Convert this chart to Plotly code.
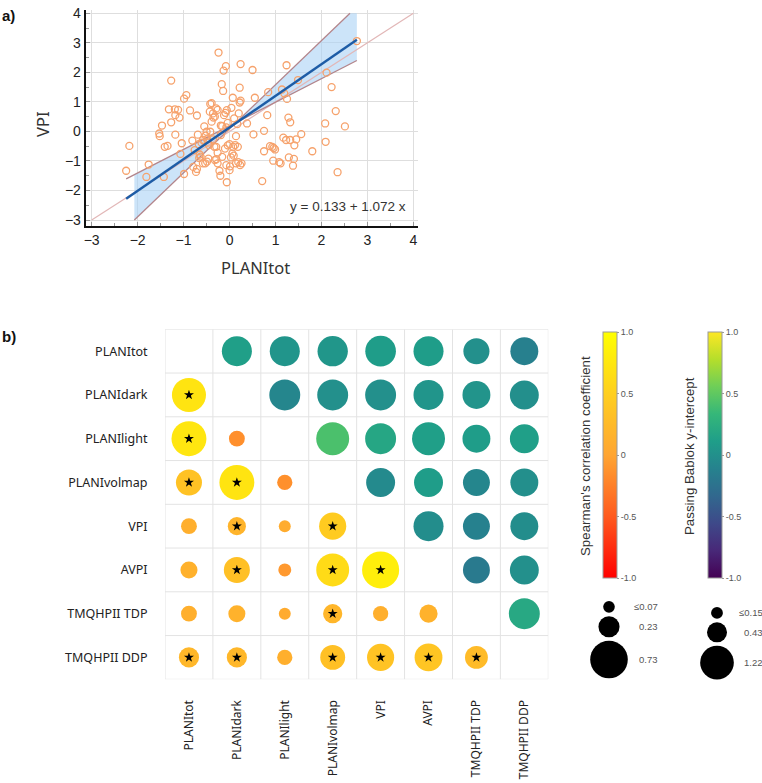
import numpy as np
import plotly.graph_objects as go

W, H = 762, 783

# ---------------- Panel a data (PLANItot vs VPI) ----------------
planitot = [-2.25, -2.18, -1.76, -1.81, -1.43, -1.27, -1.32, -1.27, -1.47, -1.53, -1.52, -1.41, -1.35,
            -1.19, -1.12, -1.18, -1.09, -1.18, -1.04, -1.07, -0.99, -0.94, -0.99, -0.86, -0.71, -0.81,
            -0.69, -0.76, -0.79, -0.71, -0.73, -0.67, -0.61, -0.65, -0.63, -0.58, -0.55, -0.52, -0.49,
            -0.47, -0.45, -0.42, -0.39, -0.43, -0.36, -0.35, -0.29, -0.26, -0.24, -0.32, -0.39, -0.42,
            -0.36, -0.33, -0.46, -0.53, -0.49, -0.32, -0.29, -0.22, -0.20, -0.16, -0.13, -0.08, -0.17,
            -0.14, -0.19, -0.16, -0.12, -0.09, -0.06, -0.04, -0.07, -0.04, -0.10, 0.00, 0.03, 0.06, 0.09,
            0.08, 0.01, -0.07, 0.00, -0.06, 0.07, 0.04, 0.14, 0.12, 0.18, 0.22, 0.24, 0.22, 0.24, 0.20,
            0.23, 0.19, 0.14, 0.26, 0.38, 0.50, 0.55, 0.52, 0.71, 0.75, 0.75, 0.82, 0.84, 0.88, 0.93,
            0.96, 0.99, 0.95, 1.08, 1.11, 1.14, 1.24, 1.25, 1.19, 1.17, 1.23, 1.28, 1.32, 1.32, 1.29,
            1.40, 1.38, 1.41, 1.45, 1.49, 1.56, 1.80, 2.08, 2.09, 2.11, 2.22, 2.31, 2.35, 2.51, 2.77,
            -0.66, -0.26, -0.26, -0.29, -0.58, 0.17, 0.10, -0.19, -0.50]
vpi = [-1.33, -0.49, -1.12, -1.54, -1.54, 1.72, 0.75, 0.31, 0.20, -0.07, -0.16, -0.52, -0.49,
       0.75, 0.73, 0.55, 0.47, -0.11, -0.40, -0.76, 1.11, 1.23, -1.44, 0.71, 0.54, -0.31,
       -0.11, -0.63, -1.20, -1.27, -1.37, -0.43, -0.38, -0.78, -0.85, -1.08, 0.17, -0.14, -0.27,
       -0.38, -0.46, 0.93, 0.96, 0.67, 0.61, 0.47, 0.78, 0.73, 2.67, 0.50, 0.33, -0.01,
       -0.27, -0.52, -0.92, -1.08, -1.02, -0.97, -0.94, -1.33, -1.50, -0.86, 2.06, 2.21, 1.60,
       1.37, 0.20, 0.18, 0.55, 0.63, 0.72, 0.29, 0.14, -0.47, -0.58, -0.43, -0.88, -0.75, -0.82,
       -0.52, -1.18, -1.14, -1.31, -1.72, 1.14, 0.80, -0.16, -0.46, -0.52, 1.48, 2.28, 0.98, 1.04, 0.61,
       -1.14, -1.04, -1.08, -1.08, 0.27, 2.08, 1.14, -0.10, -1.68, 0.02, -0.67, 0.55, 1.33, -0.50, -0.52,
       -0.56, -0.61, -0.99, -1.04, -1.08, 1.42, 2.24, 1.10, 1.29, -0.21, -0.29, 0.47, 0.31, -0.29, -0.88,
       -0.93, -1.16, -0.47, -0.27, 1.74, -0.09, -0.67, 0.27, -0.35, 1.99, 1.50, 0.69, -1.38, 0.17, 3.06,
       -0.90, -0.72, -1.08, -0.52, -0.29, 0.25, 0.44, -0.12, -0.01]

reg_intercept, reg_slope = 0.133, 1.072
ci_hi_intercept, ci_hi_slope = 0.091, 1.492
ci_lo_intercept, ci_lo_slope = 0.191, 0.798
clip_lo, clip_hi = -3.0, 4.0

# ---------------- Panel b data ----------------
labels = ["PLANItot", "PLANIdark", "PLANIlight", "PLANIvolmap", "VPI", "AVPI",
          "TMQHPII TDP", "TMQHPII DDP"]
# Spearman rho (lower triangle, row by row)
spearman_rho = [
    [0.72],
    [0.74, -0.15],
    [0.35, 0.72, -0.14],
    [0.12, 0.18, 0.08, 0.45],
    [0.14, 0.32, -0.08, 0.62, 0.82],
    [0.12, 0.16, 0.07, 0.20, 0.12, 0.15],
    [0.22, 0.22, 0.12, 0.32, 0.36, 0.38, 0.26],
]
spearman_size = [
    [0.60],
    [0.63, 0.13],
    [0.35, 0.63, 0.12],
    [0.13, 0.17, 0.074, 0.38],
    [0.15, 0.35, 0.087, 0.56, 0.71],
    [0.13, 0.15, 0.074, 0.19, 0.12, 0.17],
    [0.21, 0.21, 0.12, 0.32, 0.38, 0.40, 0.27],
]
spearman_sig = [
    [1],
    [1, 0],
    [1, 1, 0],
    [0, 1, 0, 1],
    [0, 1, 0, 1, 1],
    [0, 0, 0, 1, 0, 0],
    [1, 1, 0, 1, 1, 1, 1],
]
# Passing Bablok y-intercept (upper triangle, row by row)
pb_intercept = [
    [0.12, 0.04, 0.05, 0.10, 0.10, 0.00, -0.13],
    [-0.08, 0.00, 0.00, 0.04, 0.03, -0.01],
    [0.42, 0.18, 0.12, 0.10, 0.12],
    [-0.05, 0.10, -0.08, -0.01],
    [-0.02, -0.12, -0.02],
    [-0.18, 0.00],
    [0.20],
]
pb_size = [
    [0.97, 0.97, 0.99, 1.01, 0.97, 0.73, 0.84],
    [1.03, 1.03, 1.03, 0.97, 0.84, 0.90],
    [1.17, 1.03, 1.17, 0.84, 0.90],
    [0.90, 0.90, 0.78, 0.84],
    [0.97, 0.78, 0.84],
    [0.78, 0.90],
    [1.03],
]
sp_legend_vals = [0.07, 0.23, 0.73]
sp_legend_text = ["≤0.07", "0.23", "0.73"]
pb_legend_vals = [0.15, 0.43, 1.22]
pb_legend_text = ["≤0.15", "0.43", "1.22"]
cbar_ticks = [-1.0, -0.5, 0.0, 0.5, 1.0]
cbar_ticktext = ["-1.0", "-0.5", "0", "0.5", "1.0"]

# plotly area mode: diameter = sqrt(2 * v / sizeref)
SP_SIZEREF = 2 / 1936.0
PB_SIZEREF = 2 / 930.0

fig = go.Figure()

# ---------------- Panel a ----------------
px = np.array(planitot)
xmin, xmax = float(px.min()), float(px.max())


def clip_x(b, m):
    lo = (clip_lo - b) / m
    hi = (clip_hi - b) / m
    return max(xmin, lo), min(xmax, hi)


xs = np.linspace(max(xmin, (clip_lo - ci_hi_intercept) / ci_hi_slope), xmax, 200)
up = np.maximum(ci_hi_intercept + ci_hi_slope * xs, ci_lo_intercept + ci_lo_slope * xs)
lo = np.minimum(ci_hi_intercept + ci_hi_slope * xs, ci_lo_intercept + ci_lo_slope * xs)
up = np.clip(up, clip_lo, clip_hi)
lo = np.clip(lo, clip_lo, clip_hi)
fig.add_trace(go.Scatter(x=np.concatenate([xs, xs[::-1]]).tolist(),
                         y=np.concatenate([up, lo[::-1]]).tolist(),
                         fill="toself", fillcolor="rgba(170,210,245,0.6)", line=dict(width=0),
                         mode="lines", hoverinfo="skip", showlegend=False, xaxis="x", yaxis="y"))
fig.add_trace(go.Scatter(x=[clip_lo, clip_hi], y=[clip_lo, clip_hi], mode="lines",
                         line=dict(color="#e2b7b7", width=1.2), showlegend=False, xaxis="x", yaxis="y"))
for b, m in [(ci_hi_intercept, ci_hi_slope), (ci_lo_intercept, ci_lo_slope)]:
    a0, a1 = clip_x(b, m)
    fig.add_trace(go.Scatter(x=[a0, a1], y=[b + m * a0, b + m * a1], mode="lines",
                             line=dict(color="#b3858b", width=1.3), showlegend=False,
                             xaxis="x", yaxis="y"))
fig.add_trace(go.Scatter(x=planitot, y=vpi, mode="markers",
                         marker=dict(symbol="circle-open", size=7, color="#f6a26c", opacity=1,
                                     line=dict(width=1.3, color="#f6a26c")),
                         showlegend=False, xaxis="x", yaxis="y"))
fig.add_trace(go.Scatter(x=[xmin, xmax],
                         y=[reg_intercept + reg_slope * xmin, reg_intercept + reg_slope * xmax],
                         mode="lines", line=dict(color="#1d5ca6", width=2.4), showlegend=False,
                         xaxis="x", yaxis="y"))

# ---------------- Panel b ----------------
lx, ly, lc, ls = [], [], [], []
stx, sty = [], []
for i, row in enumerate(spearman_rho):
    r = i + 1
    for j, v in enumerate(row):
        lx.append(j); ly.append(r); lc.append(v); ls.append(spearman_size[i][j])
        if spearman_sig[i][j]:
            stx.append(j); sty.append(r)
ux, uy, uc, us = [], [], [], []
for i, row in enumerate(pb_intercept):
    for k, v in enumerate(row):
        j = i + 1 + k
        ux.append(j); uy.append(i); uc.append(v); us.append(pb_size[i][k])

n = len(labels)
shapes = []
for k in range(n + 1):
    shapes.append(dict(type="line", xref="x2", yref="y2", x0=k - 0.5, x1=k - 0.5, y0=-0.5, y1=n - 0.5,
                       line=dict(color="#e3e3e3", width=1), layer="below"))
    shapes.append(dict(type="line", xref="x2", yref="y2", y0=k - 0.5, y1=k - 0.5, x0=-0.5, x1=n - 0.5,
                       line=dict(color="#e3e3e3", width=1), layer="below"))

fig.add_trace(go.Scatter(x=lx, y=ly, mode="markers",
                         marker=dict(size=ls, sizemode="area", sizeref=SP_SIZEREF, color=lc, opacity=1,
                                     coloraxis="coloraxis", line=dict(width=0)),
                         showlegend=False, xaxis="x2", yaxis="y2"))
fig.add_trace(go.Scatter(x=ux, y=uy, mode="markers",
                         marker=dict(size=us, sizemode="area", sizeref=PB_SIZEREF, color=uc, opacity=1,
                                     coloraxis="coloraxis2", line=dict(width=0)),
                         showlegend=False, xaxis="x2", yaxis="y2"))
fig.add_trace(go.Scatter(x=stx, y=sty, mode="markers",
                         marker=dict(symbol="star", size=7.5, color="black", opacity=1, line=dict(width=0)),
                         showlegend=False, xaxis="x2", yaxis="y2"))

# ---------------- Size legends (overlay pixel axes) ----------------
ann = []


def size_legend(vals, texts, sizeref, cx, top, labx):
    d = [float(np.sqrt(2 * v / sizeref)) for v in vals]
    ys = []
    y = top
    for dk in d:
        y += dk / 2
        ys.append(y)
        y += dk / 2 + 3.5
    fig.add_trace(go.Scatter(x=[cx] * len(vals), y=ys, mode="markers",
                             marker=dict(size=vals, sizemode="area", sizeref=sizeref, color="black",
                                         opacity=1, line=dict(width=0)),
                             showlegend=False, xaxis="x3", yaxis="y3", hoverinfo="skip"))
    for t, yy in zip(texts, ys):
        xx = labx - (5 if t.startswith("≤") else 0)
        ann.append(dict(x=xx / W, y=1 - yy / H, xref="paper", yref="paper", text=t, showarrow=False,
                        xanchor="left", yanchor="middle",
                        font=dict(size=9.5, color="#555", family="Liberation Sans")))


size_legend(sp_legend_vals, sp_legend_text, SP_SIZEREF, 609, 601, 637)
size_legend(pb_legend_vals, pb_legend_text, PB_SIZEREF, 717, 607, 742)


def pann(x, y, text, size, color="#333", family="Liberation Sans", xanchor="center", angle=0):
    return dict(x=x / W, y=1 - y / H, xref="paper", yref="paper", text=text, showarrow=False,
                xanchor=xanchor, yanchor="middle", textangle=angle,
                font=dict(size=size, color=color, family=family))


ann += [
    pann(0, 15, "<b>a)</b>", 15, "#111", xanchor="left"),
    pann(0, 336, "<b>b)</b>", 15, "#111", xanchor="left"),
    pann(255, 268, "PLANItot", 16.5, family="Noto Sans"),
    pann(43, 125, "VPI", 16.5, family="Noto Sans", angle=-90),
    pann(408, 206, f"y = {reg_intercept:.3f} + {reg_slope:.3f} x", 13.5, xanchor="right"),
    pann(585, 456, "Spearman's correlation coefficient", 13.3, angle=-90),
    pann(689, 456, "Passing Bablok y-intercept", 13.3, angle=-90),
]


def cbar(xpx, thick):
    return dict(x=xpx / W, xanchor="left", xpad=0, y=1 - 455 / H, yanchor="middle", ypad=0,
                len=246, lenmode="pixels", thickness=thick, thicknessmode="pixels",
                outlinewidth=1, outlinecolor="#9a9a9a", tickmode="array", tickvals=cbar_ticks,
                ticktext=cbar_ticktext, ticks="outside", ticklen=2, tickcolor="#999",
                tickfont=dict(size=9, color="#555", family="Liberation Sans"))


axis_a_common = dict(showgrid=True, gridcolor="#dedede", gridwidth=1, zeroline=False, showline=True,
                     linecolor="#111", linewidth=2, ticks="inside", ticklen=4, tickcolor="#999",
                     tickmode="linear", tick0=0, dtick=1,
                     tickfont=dict(size=14, color="#222", family="Liberation Sans"),
                     minor=dict(ticks="inside", ticklen=3, tickcolor="#999", tick0=0, dtick=0.5, showgrid=False),
                     automargin=False, fixedrange=True)

mat_common = dict(tickmode="array", tickvals=list(range(n)), ticktext=labels,
                  showgrid=False, zeroline=False, showline=False,
                  automargin=False, fixedrange=True)

fig.update_layout(
    width=W, height=H, margin=dict(l=0, r=0, t=0, b=0),
    paper_bgcolor="white", plot_bgcolor="rgba(0,0,0,0)", showlegend=False,
    xaxis=dict(domain=[85.7 / W, 418 / W], range=[-3.13, 4.1], anchor="y", **axis_a_common),
    yaxis=dict(domain=[1 - 226 / H, 1 - 10 / H], range=[-3.2, 4.11], anchor="x", **axis_a_common),
    xaxis2=dict(domain=[165 / W, 548.3 / W], range=[-0.5, n - 0.5], anchor="y2", tickangle=-90,
                ticks="outside", ticklen=15, tickcolor="rgba(0,0,0,0)",
                tickfont=dict(size=12, color="#222", family="Noto Sans"), **mat_common),
    yaxis2=dict(domain=[1 - 679.3 / H, 1 - 329.3 / H], range=[n - 0.5, -0.5], anchor="x2",
                ticks="outside", ticklen=14, tickcolor="rgba(0,0,0,0)",
                tickfont=dict(size=12.5, color="#222", family="Noto Sans"), **mat_common),
    xaxis3=dict(domain=[0, 1], range=[0, W], visible=False, anchor="y3", fixedrange=True),
    yaxis3=dict(domain=[0, 1], range=[H, 0], visible=False, anchor="x3", fixedrange=True),
    coloraxis=dict(cmin=-1, cmax=1,
                   colorscale=[[0, "#ff0000"], [0.25, "#ff5a1e"], [0.5, "#ffa532"], [0.75, "#ffcf1e"],
                               [1, "#ffff00"]],
                   colorbar=cbar(603, 14)),
    coloraxis2=dict(cmin=-1, cmax=1, colorscale="Viridis", colorbar=cbar(708, 13.5)),
    annotations=ann,
    shapes=shapes,
)

fig.write_html("out.html")
